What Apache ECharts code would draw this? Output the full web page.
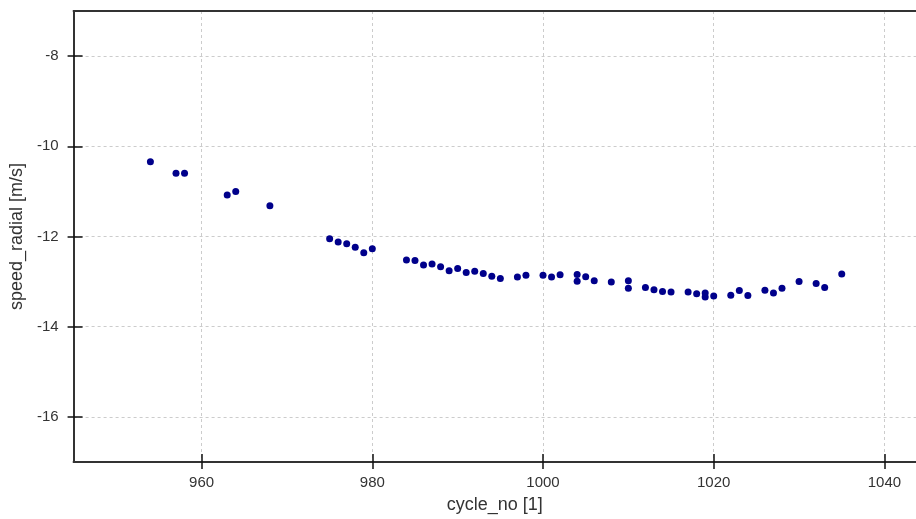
<!DOCTYPE html>
<html>
<head>
<meta charset="utf-8">
<script src="https://cdn.jsdelivr.net/npm/echarts@6/dist/echarts.min.js"></script>
<style>
  html, body { margin: 0; padding: 0; background: #fff; }
  #chart { width: 916px; height: 519px; }
</style>
</head>
<body>
<div id="chart"></div>
<script>
// Radial speed per cycle
const cycleNo = [
  954, 957, 958, 963, 964, 968,
  975, 976, 977, 978, 979, 980,
  984, 985, 986, 987, 988, 989, 990, 991, 992, 993, 994, 995,
  997, 998, 1000, 1001, 1002, 1004, 1004, 1005, 1006, 1008,
  1010, 1010, 1012, 1013, 1014, 1015, 1017, 1018, 1019, 1019,
  1020, 1022, 1023, 1024, 1026, 1027, 1028, 1030, 1032, 1033, 1035
];
const speedRadial = [
  -10.34, -10.60, -10.60, -11.08, -11.00, -11.32,
  -12.05, -12.12, -12.16, -12.24, -12.36, -12.27,
  -12.52, -12.53, -12.63, -12.61, -12.67, -12.76, -12.71, -12.80, -12.77, -12.82, -12.88, -12.93,
  -12.90, -12.86, -12.86, -12.90, -12.85, -12.84, -12.99, -12.89, -12.98, -13.01,
  -12.98, -13.15, -13.13, -13.18, -13.22, -13.23, -13.23, -13.27, -13.25, -13.34,
  -13.32, -13.30, -13.20, -13.31, -13.19, -13.25, -13.15, -13.00, -13.04, -13.13, -12.83
];
const xTicks = [960, 980, 1000, 1020, 1040];
const yTicks = [-16, -14, -12, -10, -8];

const FONT = 'Liberation Sans, Arial, sans-serif';
const points = cycleNo.map((c, i) => [c, speedRadial[i]]);
const plain = v => String(v);

const xBase = { type: 'value', min: 945, max: 1043.7, gridIndex: 0 };
const yBase = { type: 'value', min: -17, max: -7, gridIndex: 0 };

const chart = echarts.init(document.getElementById('chart'));
chart.setOption({
  backgroundColor: '#ffffff',
  animation: false,
  grid: { left: 72, top: 11, right: 0, bottom: 55, containLabel: false },
  xAxis: [
    Object.assign({}, xBase, {
      position: 'bottom',
      name: 'cycle_no [1]',
      nameLocation: 'middle',
      nameGap: 34,
      nameTextStyle: { fontFamily: FONT, fontSize: 18, color: '#333' },
      axisLine: { show: true, onZero: false, lineStyle: { color: '#333', width: 2 } },
      axisTick: { show: true, inside: false, length: 7, customValues: xTicks, lineStyle: { color: '#111', width: 1.5 } },
      axisLabel: { show: true, customValues: xTicks, formatter: plain, margin: 13, fontFamily: FONT, fontSize: 15, color: '#333' },
      splitLine: { show: true, lineStyle: { color: '#cccccc', type: [3, 3], width: 1 } }
    }),
    Object.assign({}, xBase, {
      position: 'bottom',
      axisLine: { show: false, onZero: false },
      axisTick: { show: true, inside: true, length: 8, customValues: xTicks, lineStyle: { color: '#111', width: 1.5 } },
      axisLabel: { show: false },
      splitLine: { show: false }
    }),
    Object.assign({}, xBase, {
      position: 'top',
      axisLine: { show: true, onZero: false, lineStyle: { color: '#333', width: 2 } },
      axisTick: { show: false },
      axisLabel: { show: false },
      splitLine: { show: false }
    })
  ],
  yAxis: [
    Object.assign({}, yBase, {
      position: 'left',
      name: 'speed_radial [m/s]',
      nameLocation: 'middle',
      nameGap: 47,
      nameTextStyle: { fontFamily: FONT, fontSize: 18, color: '#333' },
      axisLine: { show: true, onZero: false, lineStyle: { color: '#333', width: 2 } },
      axisTick: { show: true, inside: false, length: 6, customValues: yTicks, lineStyle: { color: '#111', width: 1.5 } },
      axisLabel: { show: true, customValues: yTicks, formatter: plain, margin: 15, fontFamily: FONT, fontSize: 15, color: '#333' },
      splitLine: { show: true, lineStyle: { color: '#cccccc', type: [3, 3], width: 1 } }
    }),
    Object.assign({}, yBase, {
      position: 'left',
      axisLine: { show: false, onZero: false },
      axisTick: { show: true, inside: true, length: 9, customValues: yTicks, lineStyle: { color: '#111', width: 1.5 } },
      axisLabel: { show: false },
      splitLine: { show: false }
    })
  ],
  series: [{
    type: 'scatter',
    xAxisIndex: 0,
    yAxisIndex: 0,
    data: points,
    symbol: 'circle',
    symbolSize: 7,
    itemStyle: { color: '#00008b', opacity: 1 },
    silent: true
  }]
});
</script>
</body>
</html>
